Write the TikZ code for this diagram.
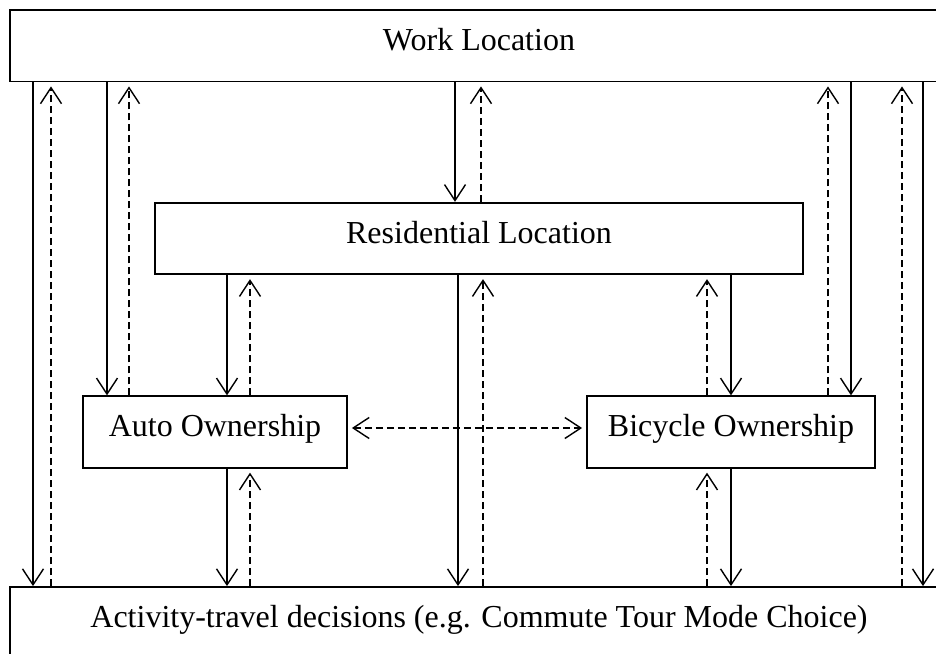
\documentclass[tikz,border=0pt]{standalone}
\usepackage{fontspec}
\setmainfont{Liberation Serif}
\usetikzlibrary{arrows.meta}

\begin{document}
\begin{tikzpicture}[x=0.5pt, y=-0.5pt, >={Straight Barb[length=8pt,width=10.5pt]},
	box/.style={draw, line width=0.9pt, inner sep=0pt, minimum height=35.75pt,
		text height=0.7em, text depth=0.25em, font=\fontsize{16}{19}\selectfont},
	flow/.style={->, line width=0.7pt},
	back/.style={->, line width=0.7pt, dash pattern=on 3.5pt off 2pt, shorten >=2pt}]
	\path [use as bounding box, clip] (0,0) rectangle (936,653);

	% Boxes {work, res, auto, bike, act}
	\node [box, minimum width=469pt] (work) at (479,45.75)  {Work Location};
	\node [box, minimum width=324pt] (res)  at (479,238.5)  {Residential Location};
	\node [box, minimum width=132pt] (auto) at (215,432)    {Auto Ownership};
	\node [box, minimum width=144pt] (bike) at (731,432)    {Bicycle Ownership};
	\node [box, minimum width=469pt] (act)  at (479,622.75) {Activity-travel decisions (e.g. Commute Tour Mode Choice)};

	% x positions of the vertical links
	\foreach \x in {33,51,107,129,227,250,455,458,481,483,707,731,828,851,902,923}
		\coordinate (x\x) at (\x,0);

	% Links from work location
	\draw [flow] (work.south -| x33)  -- (act.north -| x33);
	\draw [back] (act.north -| x51)   -- (work.south -| x51);
	\draw [flow] (work.south -| x107) -- (auto.north -| x107);
	\draw [back] (auto.north -| x129) -- (work.south -| x129);
	\draw [flow] (work.south -| x455) -- (res.north -| x455);
	\draw [back] (res.north -| x481)  -- (work.south -| x481);
	\draw [back] (bike.north -| x828) -- (work.south -| x828);
	\draw [flow] (work.south -| x851) -- (bike.north -| x851);
	\draw [back] (act.north -| x902)  -- (work.south -| x902);
	\draw [flow] (work.south -| x923) -- (act.north -| x923);

	% Links from residential location
	\draw [flow] (res.south -| x227)  -- (auto.north -| x227);
	\draw [back] (auto.north -| x250) -- (res.south -| x250);
	\draw [back] (bike.north -| x707) -- (res.south -| x707);
	\draw [flow] (res.south -| x731)  -- (bike.north -| x731);
	\draw [flow] (res.south -| x458)  -- (act.north -| x458);
	\draw [back] (act.north -| x483)  -- (res.south -| x483);

	% Links from ownership
	\draw [flow] (auto.south -| x227) -- (act.north -| x227);
	\draw [back] (act.north -| x250)  -- (auto.south -| x250);
	\draw [back] (act.north -| x707)  -- (bike.south -| x707);
	\draw [flow] (bike.south -| x731) -- (act.north -| x731);
	\draw [back, <->, shorten <=2pt] ([yshift=2pt]auto.east) -- ([yshift=2pt]bike.west);
\end{tikzpicture}
\end{document}
